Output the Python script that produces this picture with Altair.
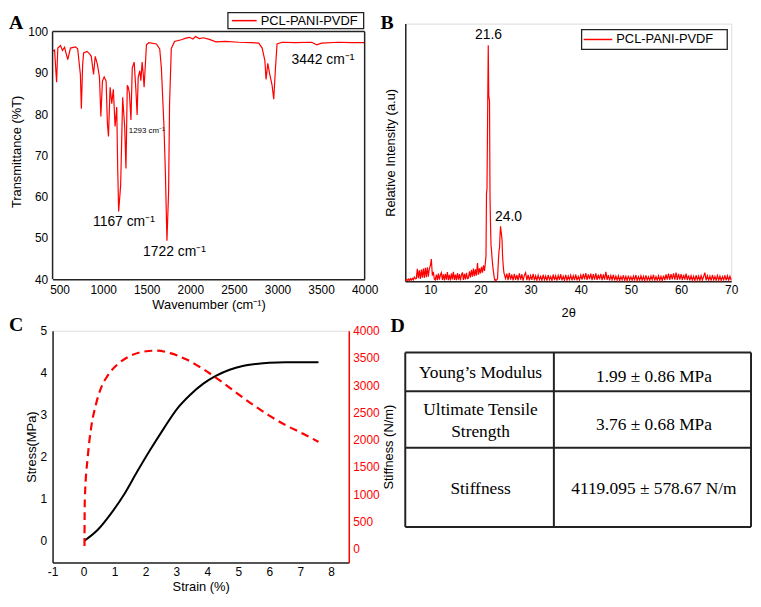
import altair as alt
import pandas as pd

# ---------------- data ----------------
series_name = "PCL-PANI-PVDF"

# (A) FTIR spectrum
ir_wavenumber = [420, 443, 466, 480, 511, 534, 557, 594, 625, 682, 708, 739, 750, 765, 776, 815, 844, 864,
                 890, 909, 935, 958, 974, 992, 1012, 1034, 1049, 1061, 1080, 1099, 1117, 1137, 1156, 1167,
                 1178, 1201, 1224, 1247, 1262, 1277, 1288, 1302, 1319, 1334, 1356, 1376, 1390, 1402, 1421,
                 1433, 1447, 1459, 1470, 1486, 1497, 1524, 1611, 1649, 1668, 1698, 1714, 1732, 1751, 1762,
                 1782, 1819, 1896, 1950, 1990, 2030, 2060, 2104, 2150, 2218, 2294, 2400, 2559, 2700, 2786,
                 2824, 2855, 2869, 2889, 2908, 2938, 2957, 2976, 2995, 3052, 3200, 3393, 3450, 3507, 3697,
                 3850, 4000]
ir_transmittance = [95.2, 95.5, 87.7, 96.0, 96.6, 95.4, 96.2, 93.2, 96.0, 96.3, 95.8, 89.6, 81.3, 92.0, 94.8,
                    95.2, 94.6, 94.0, 89.6, 94.0, 92.0, 88.9, 79.4, 88.0, 89.0, 88.0, 77.8, 74.6, 86.5, 82.5,
                    86.0, 77.0, 81.7, 66.8, 56.4, 62.8, 84.1, 77.0, 66.8, 87.0, 86.5, 85.0, 78.6, 91.2, 92.6,
                    85.8, 79.8, 88.9, 90.5, 88.1, 92.6, 90.0, 86.5, 92.6, 96.8, 97.3, 97.0, 95.8, 91.2, 77.0,
                    65.9, 49.3, 61.2, 82.5, 95.9, 97.6, 98.0, 98.4, 98.6, 98.2, 98.8, 98.3, 98.5, 98.1, 97.5,
                    97.6, 97.4, 97.3, 97.2, 96.0, 93.0, 88.4, 92.3, 90.0, 87.0, 83.6, 90.8, 97.0, 97.4, 97.3,
                    97.4, 96.8, 97.2, 97.4, 97.3, 97.3]
ir_x_ticks = [500, 1000, 1500, 2000, 2500, 3000, 3500, 4000]
ir_y_ticks = [40, 50, 60, 70, 80, 90, 100]
ir_main_labels = ["1167 cm⁻¹", "1722 cm⁻¹", "3442 cm⁻¹"]
ir_main_label_wn = [1238, 1818, 3522]
ir_main_label_t = [53.8, 46.6, 93.1]
ir_small_labels = ["1293 cm⁻¹"]
ir_small_label_wn = [1500]
ir_small_label_t = [76.0]

# (B) XRD pattern
xrd_low_int = [0.2, 0.7, 0.3, 0.8, 0.2, 1.0, 0.4, 1.1, 0.5, 1.6, 0.9,
               1.0, 4.8, 1.2, 4.2, 0.9, 4.5, 1.4, 4.9, 1.3, 5.2, 1.6, 5.4, 1.8, 5.0, 6.0, 8.6, 2.2, 3.6, 0.8,
               0.5, 2.6, 0.4, 3.0, 0.6, 2.4, 3.3, 0.5, 2.7, 0.3, 2.9, 0.6, 3.5, 0.4, 2.5, 0.3, 3.0, 0.7, 3.6,
               0.5, 2.6, 0.4, 3.1, 0.6, 2.8, 0.3, 2.4, 3.4, 0.5, 2.9, 0.7, 3.2, 1.0,
               1.2, 3.8, 1.5, 4.4, 1.8, 4.9, 2.0, 4.6, 2.2, 7.0, 2.5, 5.0, 3.0, 5.6, 3.3, 6.2, 4.0, 7.5]
xrd_peak_theta = [21.1, 21.2, 21.3, 21.45, 21.55, 21.65, 21.8, 21.9,
                  22.0, 22.1, 22.2, 22.3, 22.4, 22.5, 22.6, 22.7, 22.8, 22.9,
                  23.0, 23.1, 23.2, 23.3, 23.4, 23.5, 23.6, 23.7, 23.8, 23.9,
                  24.0, 24.1, 24.2, 24.3, 24.4, 24.5, 24.6, 24.7, 24.8, 24.9]
xrd_peak_int = [10, 34, 36, 70, 91.6, 72, 70, 33,
                22, 14, 12, 9, 7, 5, 3.5, 2, 0.8, 0.3,
                0.6, 0.4, 0.4, 0.7, 1.0, 5, 9, 11.8, 13, 18,
                21.3, 19.5, 18, 16, 10, 7, 4.5, 3, 2.5, 1.6]
xrd_high_int = [1.0, 2.9, 0.4, 3.2, 0.6, 2.6, 0.3, 2.8, 0.5,
                2.4, 0.3, 3.0, 0.6, 2.7, 0.2, 2.3, 3.3, 0.4, 2.5, 0.3, 2.2, 0.5, 2.8, 0.3, 2.1,
                0.4, 2.3, 0.6, 1.9, 0.3, 2.5, 0.5, 2.0, 0.2, 2.4, 0.6, 1.8, 0.3, 2.6, 0.4, 2.1, 0.2, 2.2,
                0.5, 2.7, 0.3, 1.9, 0.4, 2.5, 0.2, 2.0, 0.6, 2.3, 0.3, 2.1, 0.4, 2.6, 0.3, 1.9, 0.5, 2.4,
                0.6, 2.8, 0.7, 3.1, 0.5, 2.6, 0.8, 2.9, 0.4, 2.7, 0.6, 3.0, 0.5, 2.5, 0.7, 2.8, 0.4, 2.6,
                0.6, 3.6, 0.5, 2.4, 0.3, 2.2, 0.5, 2.5, 0.3, 2.0,
                0.4, 2.1, 0.2, 1.8, 0.5, 2.3, 0.3, 1.9, 0.2, 2.2, 0.4, 1.7, 0.3, 2.0, 0.5, 2.4, 0.2, 1.8,
                0.4, 2.1, 0.3, 1.9, 0.2, 2.3, 0.4, 1.7, 0.3, 2.0, 0.5, 2.5, 0.2, 1.8, 0.4, 2.1, 0.3, 1.9,
                0.2, 2.2, 0.4,
                2.6, 0.6, 2.9, 0.5, 2.7, 0.7, 3.0, 0.6, 3.3, 0.5, 2.8, 0.6, 2.7, 0.4, 2.5, 0.6, 2.9, 0.4, 2.3,
                0.3, 2.1, 0.4, 1.9, 0.2, 2.3, 0.5, 2.0, 0.3, 2.2, 0.4, 1.8, 3.3, 0.3, 2.1, 0.4, 2.0, 0.2,
                2.4, 0.5, 1.9, 0.3, 2.2, 0.4, 2.0, 0.2, 1.8, 0.5, 2.3, 0.3, 2.1, 0.4, 1.9, 0.3]
xrd_low_start, xrd_low_step = 5.0, 0.2
xrd_high_start, xrd_high_step = 25.0, 0.25
xrd_x_ticks = [10, 20, 30, 40, 50, 60, 70]
xrd_labels = ["21.6", "24.0"]
xrd_label_theta = [21.6, 25.6]
xrd_label_int = [95.4, 25.1]

# (C) mechanical test
ss_strain = [0.03, 0.46, 0.88, 1.31, 1.73, 2.16, 2.59, 3.01, 3.44, 3.87, 4.29, 4.72, 5.14, 5.57, 6.0, 6.53, 7.59]
ss_stress = [0.0, 0.26, 0.64, 1.10, 1.64, 2.17, 2.67, 3.13, 3.47, 3.74, 3.93, 4.07, 4.16, 4.21, 4.24, 4.25, 4.25]
st_strain = [0.03, 0.04, 0.14, 0.25, 0.4, 0.56, 0.78, 1.1, 1.52, 1.95, 2.37, 2.8, 3.33, 3.87, 4.4, 4.93,
             5.46, 6.0, 6.53, 7.06, 7.59]
st_stiffness = [50, 886, 1709, 2238, 2648, 2943, 3177, 3383, 3542, 3617, 3635, 3589, 3471, 3295, 3089, 2867,
                2648, 2444, 2268, 2120, 1961]
strain_ticks = [-1, 0, 1, 2, 3, 4, 5, 6, 7, 8]
stress_ticks = [0, 1, 2, 3, 4, 5]
stiff_ticks = [0, 500, 1000, 1500, 2000, 2500, 3000, 3500, 4000]

# (D) table
table_left = ["Young’s  Modulus", "Ultimate Tensile", "Strength", "Stiffness"]
table_right = ["1.99 ± 0.86 MPa", "3.76 ± 0.68 MPa", "4119.095 ± 578.67 N/m"]

# ---------------- layout / style ----------------
RED = "#ff0000"
FRAME = "#222222"
SANS = "Liberation Sans"
SERIF = "Liberation Serif"

A_W, A_H = 315, 258
A_TOP_PAD = 8 * 60 / 250.0        # extra domain above 100 so the plot frame starts 8px lower
B_W, B_H = 329, 260
C_W, C_H = 299, 234
D_W, D_H = 349, 234

# table geometry (pixels inside panel D)
row_edges = [22, 61, 118, 198]
col_edges = [0, 150, 349]
left_text_x, right_text_x = 76, 251
left_text_y = [43, 80, 102, 160]
right_text_y = [47, 95, 160]

axc = dict(grid=False, ticks=False, labelFont=SANS, labelFontSize=12, labelColor="black",
           titleFont=SANS, titleFontSize=13, titleFontWeight="normal", titleColor="black",
           labelOverlap=False, labelFlush=False, format="d")
dom = dict(domainColor=FRAME, domainWidth=1.5)


def letter(ch, dx, dy):
    return alt.Chart(pd.DataFrame({"t": [ch]})).mark_text(
        font=SERIF, fontSize=20, fontWeight="bold", align="left", baseline="top", color="black"
    ).encode(x=alt.value(dx), y=alt.value(dy), text="t:N")


def legend_parts(x0, x1, y0, y1, lx0, lx1, ly, tx):
    box = alt.Chart(pd.DataFrame({"t": [series_name]})).mark_rect(
        fill="white", stroke=FRAME, strokeWidth=1.3).encode(
        x=alt.value(x0), x2=alt.value(x1), y=alt.value(y0), y2=alt.value(y1))
    line = alt.Chart(pd.DataFrame({"t": [series_name]})).mark_rule(color=RED, strokeWidth=1.5).encode(
        x=alt.value(lx0), x2=alt.value(lx1), y=alt.value(ly))
    txt = alt.Chart(pd.DataFrame({"t": [series_name]})).mark_text(
        font=SANS, fontSize=13, align="left", baseline="middle", color="black").encode(
        x=alt.value(tx), y=alt.value(ly), text="t:N")
    return [box, line, txt]


# ---------------- panel A ----------------
df_ir = pd.DataFrame({"wn": ir_wavenumber, "T": ir_transmittance})
xA = alt.X("wn:Q", scale=alt.Scale(domain=[420, 4000], nice=False, zero=False),
           axis=alt.Axis(values=ir_x_ticks, title="Wavenumber (cm⁻¹)", labelPadding=5, titlePadding=4,
                         **axc, **dom))
yA = alt.Y("T:Q", scale=alt.Scale(domain=[40, 100 + A_TOP_PAD], nice=False, zero=False),
           axis=alt.Axis(values=ir_y_ticks, title="Transmittance (%T)", labelPadding=5, titlePadding=4,
                         domain=False, **axc))
ir_line = alt.Chart(df_ir).mark_line(color=RED, strokeWidth=1.2).encode(x=xA, y=yA)
ir_lab_main = alt.Chart(pd.DataFrame({"wn": ir_main_label_wn, "T": ir_main_label_t, "label": ir_main_labels})
                        ).mark_text(font=SANS, fontSize=14, color="black").encode(x=xA, y=yA, text="label:N")
ir_lab_small = alt.Chart(pd.DataFrame({"wn": ir_small_label_wn, "T": ir_small_label_t, "label": ir_small_labels})
                         ).mark_text(font=SANS, fontSize=8, color="black").encode(x=xA, y=yA, text="label:N")
df_frame_h = pd.DataFrame({"wn": [420], "wn2": [4000], "T": [100]})
df_frame_v = pd.DataFrame({"wn": [420, 4000], "T": [40, 40], "T2": [100, 100]})
frame_top = alt.Chart(df_frame_h).mark_rule(color=FRAME, strokeWidth=1.5).encode(
    x=xA, x2="wn2:Q", y=yA)
frame_sides = alt.Chart(df_frame_v).mark_rule(color=FRAME, strokeWidth=1.5).encode(
    x=xA, y=yA, y2="T2:Q")
panelA = alt.layer(ir_line, ir_lab_main, ir_lab_small, frame_top, frame_sides,
                   *legend_parts(177, 314, -11, 5, 181, 206, -3, 210),
                   letter("A", -44, -11)).properties(
    width=A_W, height=A_H, view=alt.ViewBackground(stroke="transparent"))

# ---------------- panel B ----------------
xrd_theta = ([round(xrd_low_start + xrd_low_step * i, 3) for i in range(len(xrd_low_int))]
             + xrd_peak_theta
             + [round(xrd_high_start + xrd_high_step * i, 3) for i in range(len(xrd_high_int))])
xrd_int = xrd_low_int + xrd_peak_int + xrd_high_int
df_xrd = pd.DataFrame({"theta": xrd_theta, "I": xrd_int})
xB = alt.X("theta:Q", scale=alt.Scale(domain=[5, 70], nice=False, zero=False),
           axis=alt.Axis(values=xrd_x_ticks, title="2θ", labelPadding=3, titlePadding=12, **axc, **dom))
yB = alt.Y("I:Q", scale=alt.Scale(domain=[0, 100], nice=False),
           axis=alt.Axis(labels=False, title="Relative Intensity (a.u)", titlePadding=8, **axc, **dom))
xrd_line = alt.Chart(df_xrd).mark_line(color=RED, strokeWidth=1.2).encode(x=xB, y=yB)
xrd_lab = alt.Chart(pd.DataFrame({"theta": xrd_label_theta, "I": xrd_label_int, "label": xrd_labels})
                    ).mark_text(font=SANS, fontSize=14, color="black").encode(x=xB, y=yB, text="label:N")
panelB = alt.layer(xrd_line, xrd_lab,
                   *legend_parts(178, 325, 6, 26, 180, 209, 16, 213),
                   letter("B", -25, -11)).properties(width=B_W, height=B_H)

# ---------------- panel C ----------------
df_ss = pd.DataFrame({"strain": ss_strain, "stress": ss_stress})
df_st = pd.DataFrame({"strain": st_strain, "stiff": st_stiffness})
xC = alt.X("strain:Q", scale=alt.Scale(domain=[-1, 8.57], nice=False, zero=False),
           axis=alt.Axis(values=strain_ticks, title="Strain (%)", labelPadding=4, titlePadding=3,
                         labelExpr="'' + datum.value", **axc, **dom))
stress_line = alt.Chart(df_ss).mark_line(color="black", strokeWidth=2, interpolate="monotone").encode(
    x=xC,
    y=alt.Y("stress:Q", scale=alt.Scale(domain=[-0.52, 5], nice=False, zero=False),
            axis=alt.Axis(values=stress_ticks, title="Stress(MPa)", orient="left",
                          labelPadding=6, titlePadding=2, **axc, **dom)))
stiff_line = alt.Chart(df_st).mark_line(color=RED, strokeWidth=2.2, strokeDash=[8, 5],
                                        interpolate="monotone").encode(
    x=xC,
    y=alt.Y("stiff:Q", scale=alt.Scale(domain=[-252, 4000], nice=False, zero=False),
            axis=alt.Axis(values=stiff_ticks, title="Stiffness (N/m)", orient="right",
                          titleAngle=270, titleBaseline="top",
                          labelPadding=4, titlePadding=3, domainColor=RED, domainWidth=1.5,
                          **{**axc, "labelColor": RED})))
panelC = alt.layer(stress_line, stiff_line, letter("C", -44, -16)).resolve_scale(
    y="independent").properties(width=C_W, height=C_H)

# ---------------- panel D ----------------
xD = alt.Scale(domain=[0, D_W], nice=False, zero=False)
yD = alt.Scale(domain=[0, D_H], nice=False, zero=False, reverse=True)
df_h = pd.DataFrame({"tx": [col_edges[0]] * len(row_edges), "tx2": [col_edges[-1]] * len(row_edges),
                     "ty": row_edges})
df_v = pd.DataFrame({"tx": col_edges, "ty": [row_edges[0]] * len(col_edges),
                     "ty2": [row_edges[-1]] * len(col_edges)})
hlines = alt.Chart(df_h).mark_rule(color=FRAME, strokeWidth=2).encode(
    x=alt.X("tx:Q", scale=xD, axis=None), x2="tx2:Q", y=alt.Y("ty:Q", scale=yD, axis=None))
vlines = alt.Chart(df_v).mark_rule(color=FRAME, strokeWidth=2).encode(
    x=alt.X("tx:Q", axis=None), y=alt.Y("ty:Q", axis=None), y2="ty2:Q")
df_tl = pd.DataFrame({"tx": [left_text_x] * len(table_left), "ty": left_text_y, "label": table_left})
df_tr = pd.DataFrame({"tx": [right_text_x] * len(table_right), "ty": right_text_y, "label": table_right})
tleft = alt.Chart(df_tl).mark_text(font=SERIF, fontSize=17.5, color="black").encode(
    x=alt.X("tx:Q", axis=None), y=alt.Y("ty:Q", axis=None), text="label:N")
tright = alt.Chart(df_tr).mark_text(font=SERIF, fontSize=17.5, color="black").encode(
    x=alt.X("tx:Q", axis=None), y=alt.Y("ty:Q", axis=None), text="label:N")
panelD = alt.layer(hlines, vlines, tleft, tright, letter("D", -15, -15)).properties(
    width=D_W, height=D_H, view=alt.ViewBackground(stroke="transparent"))

# ---------------- assemble ----------------
chart = alt.concat(panelA, panelB, panelC, panelD, columns=2,
                   spacing={"row": 50, "column": 41}, bounds="flush", align="each").resolve_scale(
    x="independent", y="independent").properties(padding=0).configure_view(
    stroke=FRAME, strokeWidth=1.5).configure(font=SANS)

chart.save("out.html", embed_options={"renderer": "svg", "actions": False})
